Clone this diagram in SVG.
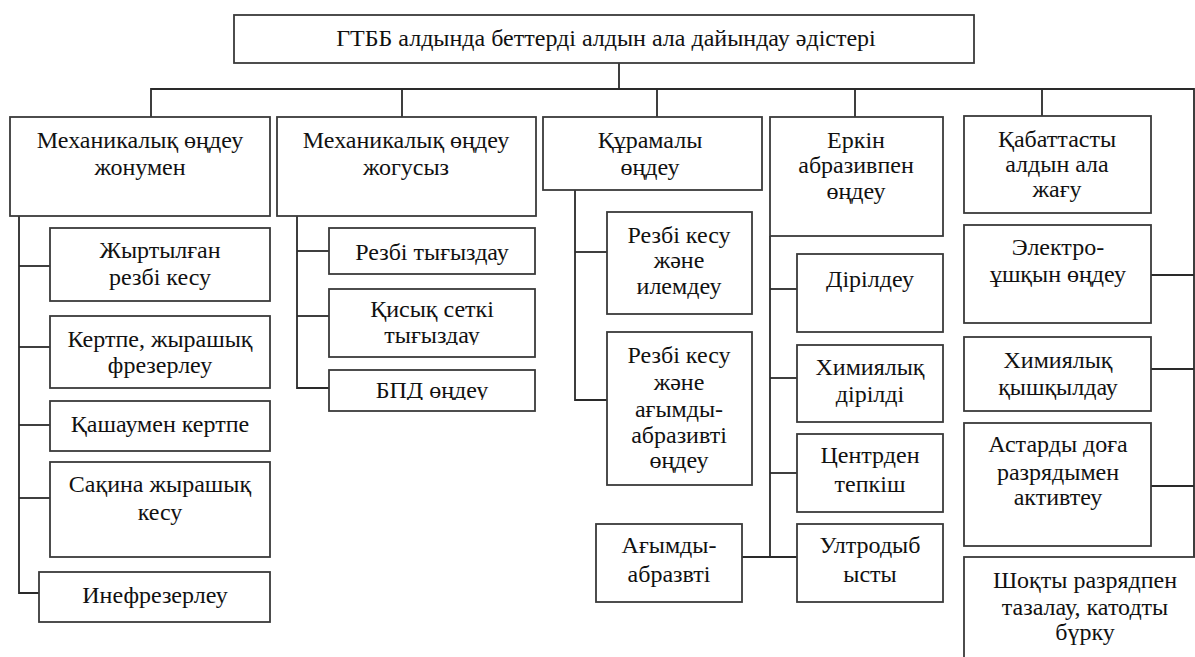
<svg xmlns="http://www.w3.org/2000/svg" width="1195" height="657" viewBox="0 0 1195 657">
  <defs>
    <style>
      .box { fill: #ffffff; stroke: #3a3a3a; stroke-width: 1.8; }
      .link { fill: none; stroke: #2a2a2a; stroke-width: 1.8; }
      .t { font-family: "Liberation Serif", "Times New Roman", serif; font-size: 24px; fill: #111111; text-anchor: middle; }
    </style>
    <!-- the lower edge of these text frames cuts off the descenders -->
    <clipPath id="clip-kisyk"><rect x="329" y="289" width="206" height="56"/></clipPath>
    <clipPath id="clip-bpd"><rect x="329" y="370" width="206" height="30"/></clipPath>
  </defs>
  <rect width="1195" height="657" fill="#ffffff"/>

  <!-- connectors -->
  <g id="connectors" class="link">
    <path d="M619 63 V89"/>
    <path d="M151 117 V89 H1194 V557"/>
    <path d="M402 89 V117"/>
    <path d="M657 89 V117"/>
    <path d="M855 89 V117"/>
    <path d="M1042 89 V116"/>
    <!-- turning, column 1 -->
    <path d="M19 216 V593 H39"/>
    <path d="M19 266 H50"/>
    <path d="M19 347 H50"/>
    <path d="M19 425 H50"/>
    <path d="M19 498 H50"/>
    <!-- without turning, column 2 -->
    <path d="M297 216 V388 H329"/>
    <path d="M297 251 H329"/>
    <path d="M297 316 H329"/>
    <!-- combined, column 3 -->
    <path d="M575 190 V400 H607"/>
    <path d="M575 252 H607"/>
    <!-- free abrasive, column 4 -->
    <path d="M770 236 V557"/>
    <path d="M770 289 H797"/>
    <path d="M770 378 H797"/>
    <path d="M770 473 H797"/>
    <path d="M742 557 H797"/>
    <!-- coating, column 5 -->
    <path d="M1151 275 H1194"/>
    <path d="M1151 369 H1194"/>
    <path d="M1151 486 H1194"/>
  </g>

  <!-- root -->
  <g id="root">
    <rect class="box" x="234" y="15" width="740" height="48"/>
    <text class="t" x="606" y="46">ГТББ алдында беттерді алдын ала дайындау әдістері</text>
  </g>

  <!-- first level -->
  <g id="mech-turning">
    <rect class="box" x="10" y="117" width="260" height="99"/>
    <text class="t" x="140" y="148">Механикалық өңдеу</text>
    <text class="t" x="140" y="175">жонумен</text>
  </g>
  <g id="mech-no-turning">
    <rect class="box" x="277" y="117" width="259" height="99"/>
    <text class="t" x="406" y="148">Механикалық өңдеу</text>
    <text class="t" x="406" y="175">жогусыз</text>
  </g>
  <g id="combined">
    <rect class="box" x="543" y="117" width="219" height="73"/>
    <text class="t" x="650" y="148">Құрамалы</text>
    <text class="t" x="650" y="175">өңдеу</text>
  </g>
  <g id="free-abrasive">
    <rect class="box" x="770" y="117" width="173" height="119"/>
    <text class="t" x="856" y="148">Еркін</text>
    <text class="t" x="856" y="173">абразивпен</text>
    <text class="t" x="856" y="199">өңдеу</text>
  </g>
  <g id="coating">
    <rect class="box" x="964" y="116" width="187" height="97"/>
    <text class="t" x="1057" y="147">Қабаттасты</text>
    <text class="t" x="1057" y="172">алдын ала</text>
    <text class="t" x="1057" y="197">жағу</text>
  </g>

  <!-- column 1 -->
  <g id="torn-thread">
    <rect class="box" x="50" y="228" width="220" height="73"/>
    <text class="t" x="160" y="258">Жыртылған</text>
    <text class="t" x="160" y="285">резбі кесу</text>
  </g>
  <g id="notch-milling">
    <rect class="box" x="50" y="316" width="220" height="72"/>
    <text class="t" x="160" y="347">Кертпе, жырашық</text>
    <text class="t" x="160" y="373">фрезерлеу</text>
  </g>
  <g id="chisel-notch">
    <rect class="box" x="50" y="401" width="220" height="50"/>
    <text class="t" x="160" y="432">Қашаумен кертпе</text>
  </g>
  <g id="ring-groove">
    <rect class="box" x="50" y="462" width="220" height="95"/>
    <text class="t" x="160" y="492">Сақина жырашық</text>
    <text class="t" x="160" y="520">кесу</text>
  </g>
  <g id="needle-milling">
    <rect class="box" x="39" y="572" width="231" height="50"/>
    <text class="t" x="155" y="603">Инефрезерлеу</text>
  </g>

  <!-- column 2 -->
  <g id="thread-rolling">
    <rect class="box" x="329" y="228" width="206" height="46"/>
    <text class="t" x="432" y="260">Резбі тығыздау</text>
  </g>
  <g id="curved-mesh">
    <rect class="box" x="329" y="289" width="206" height="68"/>
    <text class="t" x="432" y="317">Қисық сеткі</text>
    <text class="t" x="432" y="343" clip-path="url(#clip-kisyk)">тығыздау</text>
  </g>
  <g id="bpd">
    <rect class="box" x="329" y="370" width="206" height="41"/>
    <text class="t" x="432" y="398" clip-path="url(#clip-bpd)">БПД өңдеу</text>
  </g>

  <!-- column 3 -->
  <g id="cut-roll">
    <rect class="box" x="607" y="212" width="145" height="102"/>
    <text class="t" x="679" y="243">Резбі кесу</text>
    <text class="t" x="679" y="268">және</text>
    <text class="t" x="679" y="294">илемдеу</text>
  </g>
  <g id="cut-flow">
    <rect class="box" x="607" y="332" width="145" height="153"/>
    <text class="t" x="679" y="363">Резбі кесу</text>
    <text class="t" x="679" y="390">және</text>
    <text class="t" x="679" y="417">ағымды-</text>
    <text class="t" x="679" y="443">абразивті</text>
    <text class="t" x="679" y="468">өңдеу</text>
  </g>
  <g id="flow-abrasive">
    <rect class="box" x="596" y="524" width="146" height="78"/>
    <text class="t" x="669" y="553">Ағымды-</text>
    <text class="t" x="669" y="582">абразвті</text>
  </g>

  <!-- column 4 -->
  <g id="vibration">
    <rect class="box" x="797" y="254" width="146" height="78"/>
    <text class="t" x="870" y="287">Дірілдеу</text>
  </g>
  <g id="chem-vibration">
    <rect class="box" x="797" y="345" width="146" height="77"/>
    <text class="t" x="870" y="375">Химиялық</text>
    <text class="t" x="870" y="402">дірілді</text>
  </g>
  <g id="centrifugal">
    <rect class="box" x="797" y="434" width="146" height="78"/>
    <text class="t" x="870" y="463">Центрден</text>
    <text class="t" x="870" y="492">тепкіш</text>
  </g>
  <g id="ultrasonic">
    <rect class="box" x="797" y="524" width="146" height="78"/>
    <text class="t" x="870" y="553">Ултродыб</text>
    <text class="t" x="870" y="582">ысты</text>
  </g>

  <!-- column 5 -->
  <g id="spark">
    <rect class="box" x="964" y="225" width="187" height="98"/>
    <text class="t" x="1058" y="255">Электро-</text>
    <text class="t" x="1058" y="282">ұшқын өңдеу</text>
  </g>
  <g id="pickling">
    <rect class="box" x="964" y="337" width="187" height="74"/>
    <text class="t" x="1058" y="368">Химиялық</text>
    <text class="t" x="1058" y="395">қышқылдау</text>
  </g>
  <g id="arc-activation">
    <rect class="box" x="964" y="423" width="187" height="123"/>
    <text class="t" x="1058" y="452">Астарды доға</text>
    <text class="t" x="1058" y="480">разрядымен</text>
    <text class="t" x="1058" y="505">активтеу</text>
  </g>
  <g id="glow-cleaning">
    <rect class="box" x="964" y="557" width="244" height="130"/>
    <text class="t" x="1085" y="588">Шоқты разрядпен</text>
    <text class="t" x="1085" y="615">тазалау, катодты</text>
    <text class="t" x="1085" y="640">бүрку</text>
  </g>
</svg>
